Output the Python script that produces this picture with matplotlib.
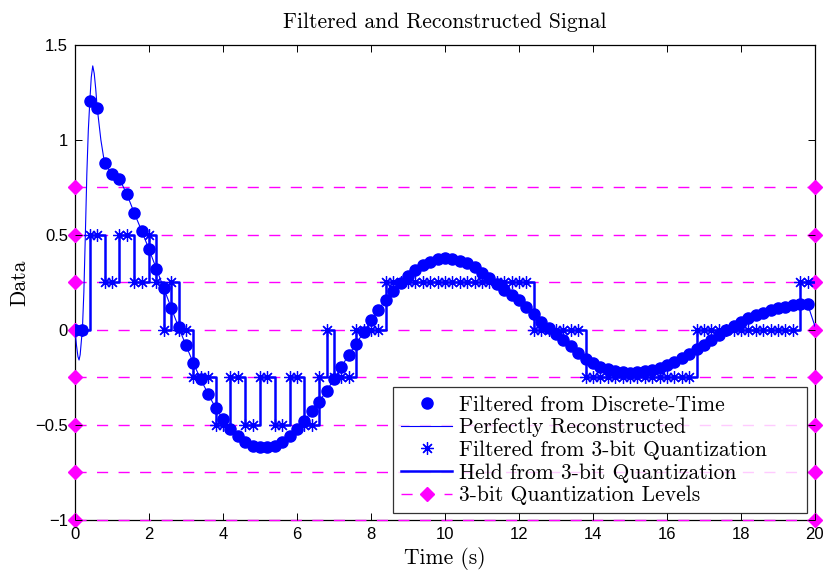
import numpy as np
import matplotlib
matplotlib.use("Agg")
import matplotlib.pyplot as plt

# sample times (0.2 s spacing) and values
t_samp = np.linspace(0, 19.8, 100)
filtered = [
    0.0, 0.0, 1.205, 1.17, 0.877, 0.82, 0.795, 0.716, 0.617, 0.523,
    0.425, 0.322, 0.22, 0.117, 0.015, -0.081, -0.175, -0.26, -0.337, -0.41,
    -0.468, -0.52, -0.56, -0.59, -0.61, -0.617, -0.617, -0.609, -0.59, -0.56,
    -0.523, -0.477, -0.428, -0.377, -0.32, -0.26, -0.194, -0.13, -0.072, -0.013,
    0.051, 0.107, 0.158, 0.206, 0.246, 0.284, 0.316, 0.342, 0.36, 0.372,
    0.377, 0.374, 0.365, 0.351, 0.33, 0.302, 0.272, 0.24, 0.21, 0.184,
    0.156, 0.121, 0.082, 0.044, 0.013, -0.02, -0.051, -0.085, -0.123, -0.151,
    -0.175, -0.193, -0.207, -0.217, -0.223, -0.225, -0.223, -0.217, -0.21, -0.199,
    -0.185, -0.167, -0.149, -0.126, -0.102, -0.079, -0.053, -0.026, 0.0, 0.021,
    0.042, 0.061, 0.077, 0.091, 0.105, 0.114, 0.123, 0.13, 0.135, 0.137,
]
quantized = (
    [0, 0, 0.5, 0.5, 0.25, 0.25, 0.5, 0.5, 0.25, 0.25,
     0.5, 0.25, 0, 0.25, 0, 0, -0.25, -0.25, -0.25, -0.5,
     -0.5, -0.25, -0.25, -0.5, -0.5, -0.25, -0.25, -0.5, -0.5, -0.25,
     -0.25, -0.5, -0.5, -0.25, 0, -0.25, -0.25, -0.25, 0, 0,
     0, 0]
    + [0.25] * 20 + [0] * 7 + [-0.25] * 15 + [0] * 14 + [0.25] * 2
)

# reconstructed curve: extra readings where it leaves the samples
recon_t_start = [0, 0.04, 0.08, 0.11, 0.14, 0.18, 0.2, 0.24, 0.28, 0.32,
                 0.36, 0.4, 0.44, 0.48, 0.52, 0.56, 0.6, 0.7, 0.8]
recon_y_start = [0, -0.08, -0.14, -0.158, -0.13, -0.04, 0, 0.2, 0.5, 0.82,
                 1.05, 1.2, 1.33, 1.39, 1.35, 1.27, 1.17, 1.0, 0.877]
recon_t_end = [20.0]
recon_y_end = [0.02]

levels = [-1, -0.75, -0.5, -0.25, 0, 0.25, 0.5, 0.75]
t_end = 20

blue = (0, 0, 1)
mag = (1, 0, 1)
serif = "cmr10"

fig = plt.figure(figsize=(8.24, 5.73), dpi=100)
ax = fig.add_axes([0.091, 0.0925, 0.898, 0.829])

for i, lv in enumerate(levels):
    ax.plot([0, t_end], [lv, lv], color=mag, lw=1, dashes=(8, 7.5),
            marker="D", ms=7, clip_on=False, zorder=1,
            label="3-bit Quantization Levels" if i == 0 else None)

recon_t = recon_t_start + list(t_samp[5:]) + recon_t_end
recon_y = recon_y_start + list(filtered[5:]) + recon_y_end

h1, = ax.plot(t_samp, filtered, "o", color=blue, ms=8, zorder=4,
              label="Filtered from Discrete-Time")
h2, = ax.plot(recon_t, recon_y, "-", color=blue, lw=0.8, zorder=4,
              label="Perfectly Reconstructed")
h3, = ax.plot(t_samp, quantized, ls="none", marker=(8, 2, 0), ms=9,
              mec=blue, mew=0.9, zorder=3,
              label="Filtered from 3-bit Quantization")
h4, = ax.step(np.append(t_samp, t_end), quantized + quantized[-1:],
              where="post", color=blue, lw=1.8, zorder=3,
              label="Held from 3-bit Quantization")
h5 = ax.get_lines()[0]

ax.set_xlim(0, 20)
ax.set_ylim(-1, 1.5)
ax.set_xticks(range(0, 21, 2))
ax.set_yticks([-1, -0.5, 0, 0.5, 1, 1.5])
ax.set_yticklabels(["\u22121", "\u22120.5", "0", "0.5", "1", "1.5"])
ax.tick_params(direction="in", top=True, right=True, length=5,
               labelsize=12, width=0.7, pad=5)
for lab in ax.get_xticklabels() + ax.get_yticklabels():
    lab.set_fontfamily("Liberation Sans")
for sp in ax.spines.values():
    sp.set_zorder(0.5)
    sp.set_linewidth(0.9)

ax.set_title("Filtered and Reconstructed Signal", fontfamily=serif,
             fontsize=15.5, pad=12)
ax.set_xlabel("Time (s)", fontfamily=serif, fontsize=15.5, labelpad=4)
ax.set_ylabel("Data", fontfamily=serif, fontsize=15.5, labelpad=4)

# legend box stretched to the reference width (extra space on the right)
leg = ax.legend(handles=[h1, h2, h3, h4, h5], loc="lower left",
                bbox_to_anchor=(0.43, 0.0147, 0.559, 0.26), mode="expand",
                prop={"family": serif, "size": 15.5},
                frameon=True, fancybox=False, edgecolor="black",
                labelspacing=0.15, handlelength=2.4, handletextpad=0.3,
                borderpad=0.35, borderaxespad=0)
leg.get_frame().set_linewidth(0.9)

fig.savefig("out.png", dpi=100)
